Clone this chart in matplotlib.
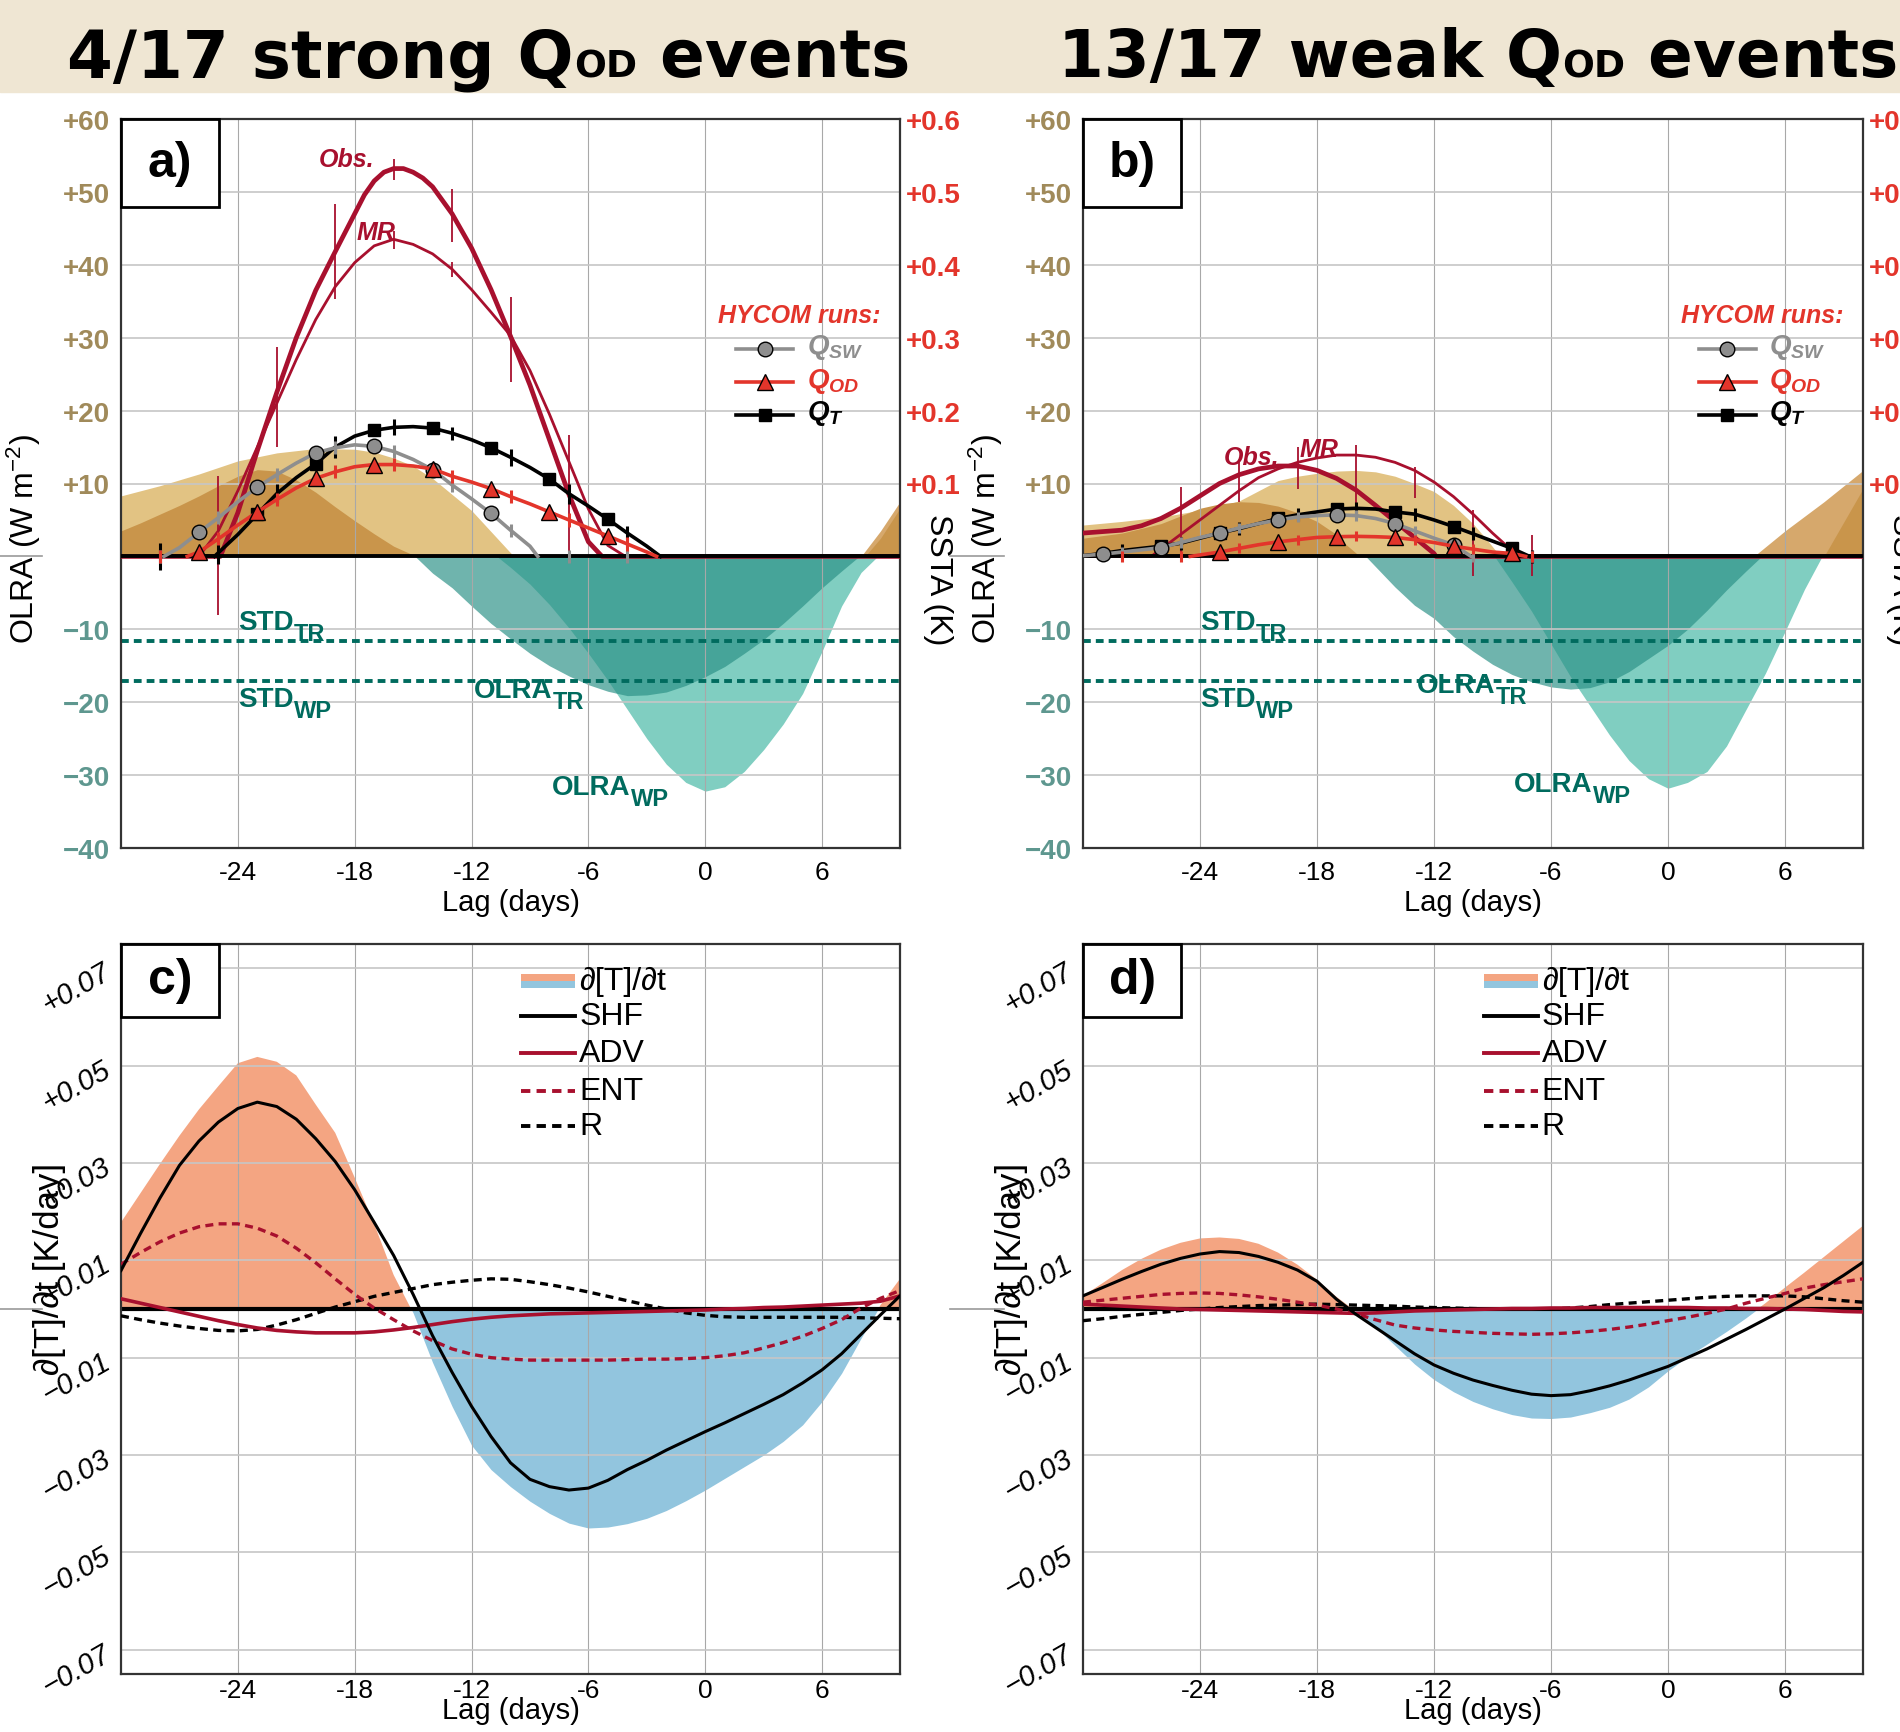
import numpy as np
import matplotlib
matplotlib.use("Agg")
import matplotlib.pyplot as plt
import matplotlib.transforms as mtransforms
from matplotlib.patches import Rectangle

plt.rcParams["font.family"] = ["Liberation Sans", "DejaVu Sans"]
plt.rcParams["mathtext.fontset"] = "custom"
plt.rcParams["mathtext.rm"] = "Liberation Sans"
plt.rcParams["mathtext.it"] = "Liberation Sans:italic:bold"
plt.rcParams["mathtext.bf"] = "Liberation Sans:bold"

# ---------------- ticks / labels ----------------
lag_ticks = [-24, -18, -12, -6, 0, 6]
olr_ticks = [-40, -30, -20, -10, 0, 10, 20, 30, 40, 50, 60]
olr_labels = ["\u221240", "\u221230", "\u221220", "\u221210", "", "+10", "+20", "+30", "+40", "+50", "+60"]
sst_labels = ["", "", "", "", "", "+0.1", "+0.2", "+0.3", "+0.4", "+0.5", "+0.6"]
tend_ticks = [-0.07, -0.05, -0.03, -0.01, 0.01, 0.03, 0.05, 0.07]
tend_labels = ["\u22120.07", "\u22120.05", "\u22120.03", "\u22120.01", "+0.01", "+0.03", "+0.05", "+0.07"]

# ---------------- panel a (strong events) ----------------
a_tan1_x = [-30, -28, -26, -24, -22, -20, -18, -17, -16, -15, -14, -13, -12, -11, -10, -9.8]
a_tan1_y = [8.3, 9.7, 11.3, 13.1, 14.2, 14.8, 14.7, 14.3, 13.5, 12.4, 10.7, 8.5, 6.3, 3.4, 0.5, 0]
a_tan2_x = [-30, -29, -28, -27, -26, -25, -24, -23, -22, -21, -20, -19, -18, -17, -16, -15, -14.8]
a_tan2_y = [3.5, 4.6, 5.8, 7.0, 8.3, 9.7, 11.0, 11.9, 11.7, 10.5, 8.8, 6.8, 4.9, 3.1, 1.4, 0.2, 0]
a_tanr1_x = [8.0, 9, 10]
a_tanr1_y = [0, 3.5, 7.5]
a_tanr2_x = [8.2, 9, 10]
a_tanr2_y = [0, 2.5, 6.6]
a_tr_x = [-14.9, -14, -13, -12, -11, -10, -9, -8, -7, -6, -5, -4, -3, -2, -1, 0, 1, 2, 3, 4, 5, 6, 7, 7.9]
a_tr_y = [0, -2.3, -4.3, -6.8, -9.2, -11.3, -13.3, -15.0, -16.4, -17.6, -18.5, -19.1, -19.0, -18.6,
          -17.7, -16.5, -15.1, -13.3, -11.4, -9.2, -6.8, -4.3, -2.0, 0]
a_wp_x = [-10.7, -10, -9, -8, -7, -6, -5, -4, -3, -2, -1, 0, 1, 2, 3, 4, 5, 6, 7, 8, 8.85]
a_wp_y = [0, -1.5, -3.8, -6.6, -9.8, -13.3, -17.0, -21.0, -25.0, -28.5, -31.0, -32.2, -31.6, -29.5,
          -26.5, -23.0, -18.8, -13.0, -6.8, -2.2, 0]
a_obs_x = [-30, -24.9, -24, -23, -22, -21, -20, -19, -18, -17.5, -17, -16.5, -16, -15.5, -15,
           -14.5, -14, -13, -12, -11, -10, -9, -8, -7, -6, -5.3, 10]
a_obs_y = [0, 0, 6.0, 14.5, 22.5, 30.0, 36.5, 41.8, 47.0, 49.6, 51.5, 52.7, 53.2, 53.2, 52.7,
           51.9, 50.7, 47.0, 42.3, 36.6, 30.2, 23.5, 16.0, 8.5, 2.0, 0, 0]
a_mr_x = [-30, -26, -25, -24, -23, -22, -21, -20, -19, -18, -17, -16, -15, -14, -13, -12, -11, -10,
          -9, -8, -7, -6, -5, -4.1, 10]
a_mr_y = [0, 0, 3.5, 9.0, 15.0, 21.0, 27.0, 32.5, 37.0, 40.3, 42.6, 43.5, 42.8, 41.5, 39.4, 36.6,
          33.5, 30.3, 25.5, 19.5, 13.0, 6.5, 1.5, 0, 0]
a_bar_x = [-25, -22, -19, -16, -16, -13, -13, -10, -7]
a_bar_lo = [-8, 15, 35.3, 51.6, 42.2, 43.1, 38.3, 23.9, 0.2]
a_bar_hi = [11, 28.7, 48.4, 54.5, 44.7, 50.4, 40.4, 35.6, 16.6]
a_qsw_x = [-27.8, -27, -26, -25, -24, -23, -22, -21, -20, -19, -18, -17, -16, -15, -14, -13, -12,
           -11, -10, -9, -8.6]
a_qsw_y = [0, 1.2, 3.3, 5.3, 7.5, 9.5, 11.2, 12.8, 14.2, 14.9, 15.3, 15.1, 14.4, 13.3, 11.9, 9.8,
           7.9, 5.9, 3.6, 1.4, 0]
a_qod_x = [-26.6, -26, -25, -24, -23, -22, -21, -20, -19, -18, -17, -16, -15, -14, -13, -12, -11,
           -10, -9, -8, -7, -6, -5, -4, -3, -2.5]
a_qod_y = [0, 0.6, 2.4, 4.3, 6.1, 7.8, 9.4, 10.7, 11.6, 12.3, 12.6, 12.6, 12.4, 12.0, 11.0, 10.2,
           9.3, 8.2, 7.2, 6.1, 5.0, 3.9, 2.8, 1.7, 0.6, 0]
a_qt_x = [-25.2, -24, -23, -22, -21, -20, -19, -18, -17, -16, -15, -14, -13, -12, -11, -10, -9,
          -8, -7, -6, -5, -4, -3, -2.3]
a_qt_y = [0, 3.0, 5.8, 8.6, 10.8, 12.7, 15.0, 16.5, 17.3, 17.7, 17.8, 17.6, 16.9, 16.0, 14.9, 13.6,
          12.2, 10.6, 8.6, 6.9, 5.1, 3.2, 1.4, 0]
a_qsw_marks = [-26, -23, -20, -17, -14, -11]
a_qod_marks = [-26, -23, -20, -17, -14, -11, -8, -5]
a_qt_marks = [-23, -20, -17, -14, -11, -8, -5]
a_err_days = [-28, -25, -22, -19, -16, -13, -10, -7, -4]
a_qsw_err = [0.9, 0.9, 0.9, 0.9, 0.9, 0.9, 0.9, 0.9, 0.9]
a_qod_err = [0.9, 0.9, 0.9, 0.9, 0.9, 0.9, 0.9, 0.9, 0.9]
a_qt_err = [1.8, 1.5, 1.3, 1.5, 1.1, 0.9, 1.2, 1.4, 1.0]

# ---------------- panel b (weak events) ----------------
b_tan1_x = [-30, -28, -26, -24.5, -23, -22, -21, -20, -19, -18, -17, -16, -15, -14, -13, -12, -11,
            -10, -9.2, -8.6]
b_tan1_y = [4.3, 4.8, 5.4, 6.1, 6.9, 7.6, 9.0, 10.4, 11.0, 11.4, 11.7, 11.8, 11.6, 11.0, 10.0, 8.9,
            7.0, 4.5, 2.0, 0]
b_tan2_x = [-30, -28, -26, -24, -23, -22, -21, -20, -19, -18, -17, -16.5, -15.8]
b_tan2_y = [2.5, 3.2, 4.5, 6.6, 7.2, 7.5, 7.4, 6.9, 6.0, 4.8, 3.0, 1.6, 0]
b_tanr1_x = [4.4, 6, 8, 10]
b_tanr1_y = [0, 3.5, 7.5, 11.8]
b_tanr2_x = [8.0, 10]
b_tanr2_y = [0, 9.3]
b_tr_x = [-15.5, -14, -13, -12, -11, -10, -9, -8, -7, -6, -5, -4, -3, -2, -1, 0, 1, 2, 3, 4, 4.8]
b_tr_y = [0, -4.2, -6.7, -8.5, -11.0, -13.0, -14.8, -16.2, -17.2, -17.9, -18.2, -18.0, -17.2,
          -15.8, -14.0, -12.2, -10.0, -7.4, -4.6, -2.0, 0]
b_wp_x = [-8.9, -8, -7, -6, -5, -4, -3, -2, -1, 0, 1, 2, 3, 4, 5, 6, 7, 7.9]
b_wp_y = [0, -3.5, -7.5, -12.0, -16.5, -20.5, -24.5, -28.0, -30.5, -31.8, -31.0, -29.5, -26.0,
          -21.0, -16.0, -10.3, -4.5, 0]
b_obs_x = [-30, -28, -27, -26, -25, -24, -23, -22, -21, -20, -19, -18, -17, -16, -15, -14, -13,
           -12, -11.9, 10]
b_obs_y = [3.2, 3.6, 4.2, 5.2, 6.6, 8.3, 10.0, 11.2, 12.0, 12.4, 12.4, 11.8, 10.7, 9.1, 7.0, 4.8,
           2.6, 0.4, 0, 0]
b_mr_x = [-30, -26.5, -26, -25, -24, -23, -22, -21, -20, -19, -18, -17, -16, -15, -14, -13, -12,
          -11, -10, -9, -8, -7.7, 10]
b_mr_y = [0, 0, 1.0, 3.0, 5.0, 7.0, 9.0, 10.8, 12.0, 12.9, 13.5, 13.9, 13.9, 13.6, 12.9, 11.8,
          10.2, 8.2, 5.8, 3.2, 0.8, 0, 0]
b_bar_x = [-25, -22, -19, -16, -13, -10, -7]
b_bar_lo = [-0.5, 7.5, 9.3, 5.7, 8.0, -2.7, -2.7]
b_bar_hi = [9.5, 13.0, 15.0, 15.3, 12.3, 6.3, 2.9]
b_qsw_x = [-30, -29, -28, -27, -26, -25, -24, -23, -22, -21, -20, -19, -18, -17, -16, -15, -14,
           -13, -12, -11, -10.1]
b_qsw_y = [0.1, 0.3, 0.6, 0.9, 1.2, 1.9, 2.6, 3.2, 3.9, 4.5, 5.0, 5.4, 5.6, 5.7, 5.6, 5.2, 4.5,
           3.5, 2.5, 1.6, 0]
b_qod_x = [-24.5, -24, -23, -22, -21, -20, -19, -18, -17, -16, -15, -14, -13, -12, -11, -10, -9,
           -8, -7.3]
b_qod_y = [0, 0.2, 0.6, 1.1, 1.6, 2.0, 2.3, 2.6, 2.7, 2.75, 2.7, 2.6, 2.3, 1.9, 1.4, 1.0, 0.6,
           0.4, 0]
b_qt_x = [-30, -29, -28, -27, -26, -25, -24, -23, -22, -21, -20, -19, -18, -17, -16, -15, -14,
          -13, -12, -11, -10, -9, -8, -7.1]
b_qt_y = [0.1, 0.4, 0.8, 1.1, 1.4, 1.8, 2.5, 3.2, 3.8, 4.5, 5.2, 5.7, 6.1, 6.5, 6.6, 6.5, 6.1,
          5.8, 5.0, 4.1, 3.1, 2.1, 1.1, 0]
b_qsw_marks = [-29, -26, -23, -20, -17, -14, -11]
b_qod_marks = [-23, -20, -17, -14, -11, -8]
b_qt_marks = [-26, -23, -20, -17, -14, -11, -8]
b_err_days = [-28, -25, -22, -19, -16, -13, -10, -7]
b_qsw_err = [0.7, 0.7, 0.7, 0.7, 0.7, 0.7, 0.7, 0.7]
b_qod_err = [0.7, 0.7, 0.7, 0.7, 0.7, 0.7, 0.7, 0.7]
b_qt_err = [0.9, 0.9, 0.9, 0.9, 0.9, 0.9, 0.9, 0.9]

# ---------------- panels c, d (mixed-layer heat budget, K/day) ----------------
lag = [-30, -29, -28, -27, -26, -25, -24, -23, -22, -21, -20, -19, -18, -17, -16, -15, -14, -13,
       -12, -11, -10, -9, -8, -7, -6, -5, -4, -3, -2, -1, 0, 1, 2, 3, 4, 5, 6, 7, 8, 9, 10]
c_dtdt = [.0178, .0238, .0298, .0356, .0410, .0458, .0505, .0518, .0508, .0480, .0420, .0362, .0270,
          .0175, .0070, -.0008, -.0110, -.0200, -.0280, -.0330, -.0365, -.0395, -.0420, -.0440,
          -.0450, -.0448, -.0441, -.0430, -.0414, -.0394, -.0372, -.0348, -.0324, -.0300, -.0272,
          -.0238, -.0190, -.0132, -.0060, .0008, .0062]
c_shf = [.0079, .0155, .0228, .0295, .0345, .0384, .0412, .0425, .0416, .0390, .0350, .0303, .0245,
         .0178, .0110, .0030, -.0055, -.0130, -.0200, -.0262, -.0316, -.0350, -.0365, -.0372,
         -.0368, -.0352, -.0330, -.0311, -.0290, -.0271, -.0252, -.0234, -.0215, -.0196, -.0176,
         -.0152, -.0125, -.0092, -.0052, -.0012, .0027]
c_adv = [.0021, .0012, .0003, -.0006, -.0015, -.0024, -.0032, -.0039, -.0044, -.0047, -.0049, -.0049,
         -.0049, -.0047, -.0043, -.0038, -.0032, -.0026, -.0021, -.0017, -.0014, -.0012, -.0010,
         -.0009, -.0008, -.0007, -.0006, -.0005, -.0004, -.0003, -.0002, .0000, .0001, .0003,
         .0004, .0006, .0008, .0010, .0012, .0016, .0027]
c_ent = [.0092, .0116, .0138, .0156, .0169, .0175, .0175, .0166, .0150, .0125, .0095, .0062, .0030,
         .0002, -.0022, -.0045, -.0065, -.0082, -.0093, -.0100, -.0103, -.0105, -.0105, -.0105,
         -.0105, -.0105, -.0104, -.0103, -.0103, -.0102, -.0100, -.0096, -.0090, -.0080, -.0069,
         -.0056, -.0040, -.0022, .0002, .0022, .0038]
c_r = [-.0014, -.0022, -.0029, -.0035, -.0040, -.0044, -.0045, -.0042, -.0033, -.0022, -.0009, .0004,
       .0015, .0026, .0034, .0042, .0050, .0055, .0059, .0062, .0061, .0056, .0050, .0043, .0035,
       .0026, .0017, .0008, .0000, -.0008, -.0013, -.0016, -.0017, -.0017, -.0017, -.0017, -.0017,
       -.0017, -.0018, -.0019, -.0020]
d_dtdt = [.0027, .0053, .0080, .0103, .0122, .0136, .0145, .0147, .0144, .0134, .0116, .0091, .0060,
          .0025, -.0005, -.0037, -.0075, -.0113, -.0145, -.0170, -.0190, -.0205, -.0217, -.0224,
          -.0225, -.0222, -.0213, -.0202, -.0185, -.0160, -.0127, -.0098, -.0072, -.0046, -.0018,
          .0012, .0044, .0075, .0107, .0139, .0171]
d_shf = [.0027, .0044, .0061, .0077, .0092, .0104, .0113, .0118, .0116, .0108, .0096, .0080, .0057,
         .0020, -.0011, -.0038, -.0065, -.0092, -.0115, -.0132, -.0146, -.0157, -.0167, -.0175,
         -.0178, -.0176, -.0168, -.0158, -.0146, -.0132, -.0118, -.0100, -.0082, -.0062, -.0042,
         -.0021, .0000, .0022, .0044, .0069, .0096]
d_adv = [.0010, .0008, .0006, .0004, .0002, .0000, -.0001, -.0002, -.0003, -.0004, -.0005, -.0006,
         -.0007, -.0008, -.0009, -.0008, -.0006, -.0004, -.0003, -.0002, -.0001, .0000, .0001,
         .0001, .0002, .0002, .0003, .0003, .0003, .0003, .0003, .0003, .0002, .0002, .0001,
         .0001, .0000, -.0001, -.0003, -.0005, -.0006]
d_ent = [.0014, .0018, .0022, .0026, .0030, .0032, .0033, .0032, .0029, .0025, .0020, .0014, .0008,
         .0000, -.0010, -.0022, -.0033, -.0039, -.0043, -.0046, -.0048, -.0050, -.0051, -.0052,
         -.0051, -.0049, -.0046, -.0042, -.0037, -.0031, -.0024, -.0017, -.0009, .0000, .0012,
         .0022, .0032, .0043, .0050, .0056, .0062]
d_r = [-.0024, -.0020, -.0015, -.0011, -.0007, -.0003, .0000, .0003, .0005, .0007, .0008, .0009,
       .0010, .0009, .0008, .0007, .0006, .0004, .0003, .0002, .0001, .0000, .0000, .0000, .0000,
       .0002, .0005, .0009, .0012, .0015, .0018, .0021, .0024, .0026, .0027, .0027, .0027, .0025,
       .0021, .0017, .0014]

# ---------------- colours ----------------
TAN1 = "#E2C383"
TAN2 = "#C9954B"
TANR = "#D6A86C"
TEAL_WP = "#80CEC1"
TEAL_TR = "#2B9186"
TEAL_TXT = "#006B5E"
CRIMSON = "#A8102E"
HRED = "#E3352B"
GRAY = "#8E8E8E"
SALMON = "#F4A582"
BLUE = "#92C5DE"
POS_TICK = "#A08A5A"
NEG_TICK = "#5E978F"

W, H = 1900, 1733
fig = plt.figure(figsize=(W / 100, H / 100), dpi=100)


def box(left, top, w, h):
    return [left / W, 1 - (top + h) / H, w / W, h / H]


ax_a = fig.add_axes(box(121, 120, 779, 729))
ax_b = fig.add_axes(box(1083, 120, 780, 729))
ax_c = fig.add_axes(box(121, 945, 779, 730))
ax_d = fig.add_axes(box(1083, 945, 780, 730))

# beige header band with titles
fig.patches.append(Rectangle((0, 1 - 93 / H), 1, 93 / H, transform=fig.transFigure,
                             color="#EFE6D3", zorder=0))
renderer = fig.canvas.get_renderer()


def title(x_px, lead):
    x = x_px
    for s, fs in [(lead + " Q", 47.5), ("OD", 27), (" events", 47.5)]:
        t = fig.text(x / W, 1 - 77 / H, s, fontsize=fs, fontweight="bold", family="DejaVu Sans",
                     ha="left", va="baseline")
        x = t.get_window_extent(renderer).x1


title(67, "4/17 strong")
title(1058, "13/17 weak")


def sub_label(ax, x, y, main, sub, size, subsize, drop, **kw):
    t = ax.text(x, y, main, fontsize=size, va="baseline", **kw)
    x1 = t.get_window_extent(renderer).x1
    xd = ax.transData.inverted().transform((x1, 0))[0]
    tr = mtransforms.offset_copy(ax.transData, fig=fig, x=0.5, y=-drop, units="points")
    ax.text(xd, y, sub, fontsize=subsize, va="baseline", transform=tr, **kw)


def frame(ax, letter, box_h):
    ax.set_xlim(-30, 10)
    ax.set_xticks(lag_ticks)
    ax.set_xticklabels([str(t) for t in lag_ticks], fontsize=19)
    ax.grid(axis="x", color="#A8A8A8", lw=0.8)
    ax.grid(axis="y", color="#C6C6C6", lw=1.2)
    for s in ax.spines.values():
        s.set_color("#333333")
        s.set_linewidth(1.6)
    ax.add_patch(Rectangle((0, 1 - box_h), 0.126, box_h, transform=ax.transAxes, facecolor="white",
                           edgecolor="black", lw=2, zorder=6, clip_on=False))
    ax.text(0.063, 1 - box_h / 2, letter, transform=ax.transAxes, ha="center", va="center",
            fontsize=36, fontweight="bold", zorder=7)
    # little grey stub of the zero line left of the tick labels
    ax.plot([-0.171, -0.101], [0.0, 0.0], transform=ax.get_yaxis_transform(), color="#9A9A9A",
            lw=1.2, clip_on=False)


def olr_panel(ax, letter, tan1, tan2, tanr1, tanr2, tr, wp, obs, mr, bars, qsw, qod, qt,
              marks, err_days, errs, obs_lbl, mr_lbl, olr_tr_lbl, olr_wp_lbl):
    frame(ax, letter, 0.1207)
    ax.set_ylim(-40, 60)
    ax.set_yticks(olr_ticks)
    ax.set_yticklabels(olr_labels, fontsize=20, fontweight="bold")
    for t, lab in zip(olr_ticks, ax.get_yticklabels()):
        lab.set_color(POS_TICK if t > 0 else NEG_TICK)
    ax.tick_params(length=0, pad=8)
    ax.tick_params(axis="x", pad=9)

    ax.fill_between(tan1[0], 0, tan1[1], color=TAN1, lw=0, zorder=1)
    ax.fill_between(tan2[0], 0, tan2[1], color=TAN2, lw=0, zorder=1)
    ax.fill_between(tanr1[0], 0, tanr1[1], color=TANR, lw=0, zorder=1)
    ax.fill_between(tanr2[0], 0, tanr2[1], color=TAN2, lw=0, zorder=1)
    ax.fill_between(wp[0], 0, wp[1], color=TEAL_WP, lw=0, zorder=1)
    ax.fill_between(tr[0], 0, tr[1], color=TEAL_TR, alpha=0.68, lw=0, zorder=1)

    ax.axhline(-11.6, color=TEAL_TXT, lw=2.8, ls=(0, (2.0, 1.3)), zorder=2)
    ax.axhline(-17.1, color=TEAL_TXT, lw=2.8, ls=(0, (2.0, 1.3)), zorder=2)

    ax.plot(obs[0], obs[1], color=CRIMSON, lw=3.4, zorder=3)
    ax.plot(mr[0], mr[1], color=CRIMSON, lw=2.0, zorder=3)
    ax.vlines(bars[0], bars[1], bars[2], color=CRIMSON, lw=1.3, zorder=3)
    ax.axhline(0, color="black", lw=2.8, zorder=3.5)

    styles = [(qt, "black", "s", 8, "black"), (qsw, GRAY, "o", 10.5, GRAY), (qod, HRED, "^", 11, HRED)]
    for k, ((xs, ys), col, mk, ms, fc) in enumerate(styles):
        z = 4 + 0.2 * k
        ax.plot(xs, ys, color=col, lw=2.6, zorder=z)
        ec = np.interp(err_days, xs, ys, left=0, right=0)
        half = np.array(errs[k])
        ax.vlines(err_days, ec - half, ec + half, color=col, lw=2.2, zorder=z)
        mx = marks[k]
        ax.plot(mx, np.interp(mx, xs, ys), ls="none", marker=mk, ms=ms, mfc=fc, mec="black",
                mew=1, zorder=z + 0.1)

    # labels for the observed curves
    it = dict(color=CRIMSON, fontsize=18, fontweight="bold", fontstyle="italic", va="baseline", zorder=6)
    ax.text(obs_lbl[0], obs_lbl[1], "Obs.", **it)
    ax.text(mr_lbl[0], mr_lbl[1], "MR", **it)

    # HYCOM legend
    ax.text(0.65, 33.1, "HYCOM runs:", color=HRED, fontsize=18, fontweight="bold",
            fontstyle="italic", va="center", zorder=6)
    for y, col, mk, ms, lab in [(28.45, GRAY, "o", 10.5, r"$Q_{SW}$"),
                                (23.9, HRED, "^", 11, r"$Q_{OD}$"),
                                (19.4, "black", "s", 8, r"$Q_{T}$")]:
        ax.plot([1.6, 4.5], [y, y], color=col, lw=2.6, zorder=6)
        ax.plot([3.05], [y], marker=mk, ms=ms, mfc=col, mec="black", mew=1, zorder=6.1)
        ax.text(5.2, y - 0.6, lab, color=col, fontsize=20, va="baseline", zorder=6)

    # teal labels
    tt = dict(color=TEAL_TXT, fontweight="bold", zorder=6)
    sub_label(ax, -24.0, -10.0, "STD", "TR", 20, 17, 8, **tt)
    sub_label(ax, -24.0, -20.5, "STD", "WP", 20, 17, 8, **tt)
    sub_label(ax, olr_tr_lbl[0], olr_tr_lbl[1], "OLRA", "TR", 20, 17, 8, **tt)
    sub_label(ax, olr_wp_lbl[0], olr_wp_lbl[1], "OLRA", "WP", 20, 17, 8, **tt)

    ax.set_xlabel("Lag (days)", fontsize=21)
    ax.xaxis.set_label_coords(0.5, -0.055)
    ax.set_ylabel("OLRA (W m$^{-2}$)", fontsize=23)
    ax.yaxis.set_label_coords(-0.100, 0.425)

    tw = ax.twinx()
    tw.set_ylim(-0.4, 0.6)
    tw.set_yticks([t / 100 for t in olr_ticks])
    tw.set_yticklabels(sst_labels, fontsize=20, fontweight="bold", color=HRED)
    tw.tick_params(length=0, pad=4)
    for s in tw.spines.values():
        s.set_visible(False)
    tw.set_ylabel("SSTA (K)", fontsize=23, rotation=270)
    tw.yaxis.set_label_coords(1.068, 0.37)


olr_panel(ax_a, "a)", (a_tan1_x, a_tan1_y), (a_tan2_x, a_tan2_y), (a_tanr1_x, a_tanr1_y),
          (a_tanr2_x, a_tanr2_y), (a_tr_x, a_tr_y), (a_wp_x, a_wp_y), (a_obs_x, a_obs_y),
          (a_mr_x, a_mr_y), (a_bar_x, a_bar_lo, a_bar_hi), (a_qsw_x, a_qsw_y), (a_qod_x, a_qod_y),
          (a_qt_x, a_qt_y), [a_qt_marks, a_qsw_marks, a_qod_marks], a_err_days,
          [a_qt_err, a_qsw_err, a_qod_err], (-19.85, 53.6), (-17.9, 43.5), (-11.9, -19.3),
          (-7.9, -32.6))
olr_panel(ax_b, "b)", (b_tan1_x, b_tan1_y), (b_tan2_x, b_tan2_y), (b_tanr1_x, b_tanr1_y),
          (b_tanr2_x, b_tanr2_y), (b_tr_x, b_tr_y), (b_wp_x, b_wp_y), (b_obs_x, b_obs_y),
          (b_mr_x, b_mr_y), (b_bar_x, b_bar_lo, b_bar_hi), (b_qsw_x, b_qsw_y), (b_qod_x, b_qod_y),
          (b_qt_x, b_qt_y), [b_qt_marks, b_qsw_marks, b_qod_marks], b_err_days,
          [b_qt_err, b_qsw_err, b_qod_err], (-22.8, 12.7), (-18.9, 13.8), (-12.9, -18.6),
          (-7.9, -32.2))


def tend_panel(ax, letter, dtdt, shf, adv, ent, r):
    frame(ax, letter, 0.1)
    ax.set_ylim(-0.075, 0.075)
    ax.set_yticks(tend_ticks)
    ax.set_yticklabels(tend_labels, fontsize=21, fontstyle="italic", rotation=30)
    ax.tick_params(length=0, pad=4)
    ax.tick_params(axis="x", pad=3)
    x = np.array(lag)
    v = np.array(dtdt)
    ax.fill_between(x, 0, v, where=v >= 0, interpolate=True, color=SALMON, lw=0, zorder=1)
    ax.fill_between(x, 0, v, where=v <= 0, interpolate=True, color=BLUE, lw=0, zorder=1)
    ax.axhline(0, color="black", lw=3, zorder=2.5)
    dash = (0, (2.4, 1.6))
    ax.plot(x, r, color="black", lw=2.4, ls=dash, zorder=3)
    ax.plot(x, ent, color=CRIMSON, lw=2.4, ls=dash, zorder=3)
    ax.plot(x, adv, color=CRIMSON, lw=2.6, zorder=3)
    ax.plot(x, shf, color="black", lw=2.2, zorder=3.2)

    # legend drawn by hand
    x0, x1, xt = 0.5135, 0.5828, 0.588
    ax.add_patch(Rectangle((x0, 0.9493), x1 - x0, 0.0097, transform=ax.transAxes,
                           color=SALMON, lw=0, zorder=6))
    ax.add_patch(Rectangle((x0, 0.9397), x1 - x0, 0.0096, transform=ax.transAxes,
                           color=BLUE, lw=0, zorder=6))
    ax.text(xt, 0.9493, "\u2202[T]/\u2202t", transform=ax.transAxes, fontsize=23, va="center")
    for y, col, ls, lab in [(0.9014, "black", "-", "SHF"), (0.8507, CRIMSON, "-", "ADV"),
                            (0.7986, CRIMSON, dash, "ENT"), (0.7507, "black", dash, "R")]:
        ax.plot([x0, x1], [y, y], transform=ax.transAxes, color=col, ls=ls, lw=2.8, zorder=6)
        ax.text(xt, y, lab, transform=ax.transAxes, fontsize=23, va="center")

    ax.set_xlabel("Lag (days)", fontsize=21)
    ax.xaxis.set_label_coords(0.5, -0.03)
    ax.set_ylabel("\u2202[T]/\u2202t [K/day]", fontsize=25)
    ax.yaxis.set_label_coords(-0.070, 0.556)


tend_panel(ax_c, "c)", c_dtdt, c_shf, c_adv, c_ent, c_r)
tend_panel(ax_d, "d)", d_dtdt, d_shf, d_adv, d_ent, d_r)

fig.savefig("out.png", dpi=100)
